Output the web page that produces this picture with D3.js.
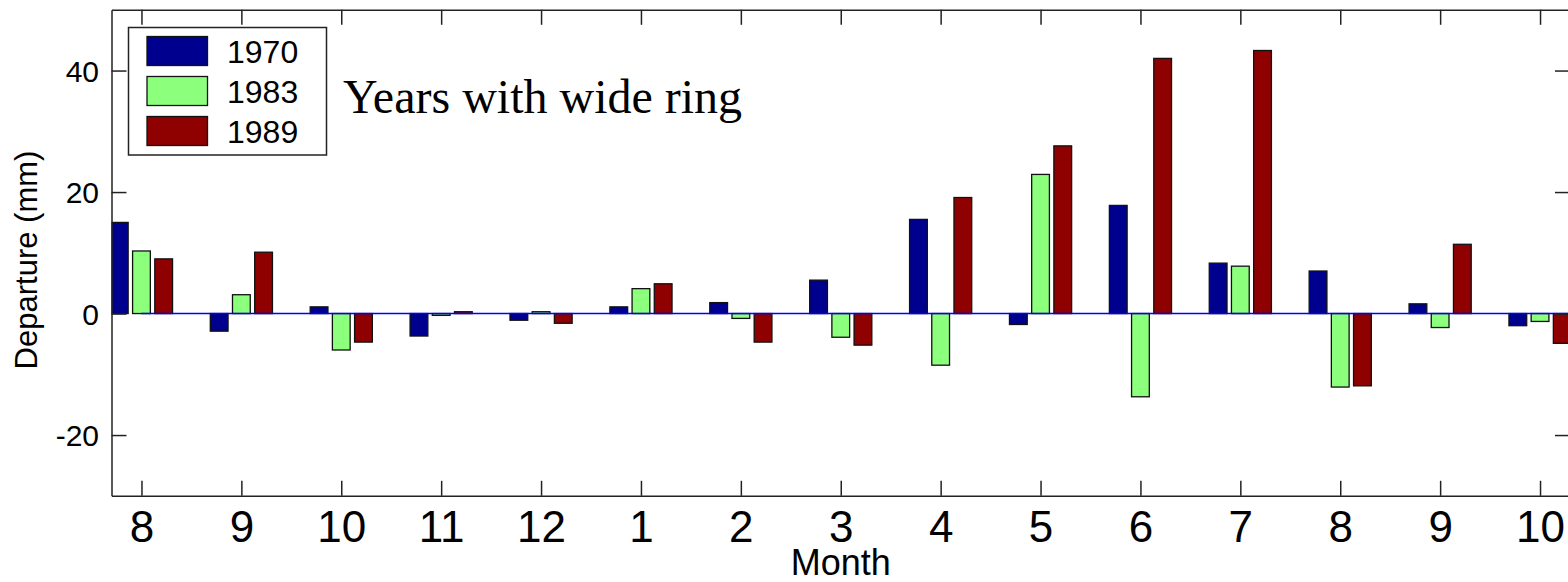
<!DOCTYPE html>
<html>
<head>
<meta charset="utf-8">
<script src="https://cdn.jsdelivr.net/npm/d3@7"></script>
<style>
html,body{margin:0;padding:0;background:#fff;}
svg{display:block;}
text{font-family:"Liberation Sans",Arial,sans-serif;fill:#000;}
</style>
</head>
<body>
<svg id="chart" width="1568" height="582"></svg>
<script>
// ---- data ----
const months = ["8","9","10","11","12","1","2","3","4","5","6","7","8","9","10"];
const seriesNames = ["1970","1983","1989"];
const v1970 = [15.0, -2.9, 1.1, -3.7, -1.1, 1.1, 1.8, 5.5, 15.5, -1.8, 17.8, 8.3, 7.0, 1.6, -2.0];
const v1983 = [10.3, 3.1, -6.0, -0.3, 0.3, 4.1, -0.8, -3.9, -8.5, 22.9, -13.7, 7.8, -12.1, -2.3, -1.3];
const v1989 = [9.0, 10.1, -4.7, 0.3, -1.6, 4.9, -4.7, -5.2, 19.1, 27.6, 42.0, 43.3, -11.9, 11.4, -4.9];
const yTicks = [-20, 0, 20, 40];
const colors = ["#00008f", "#8cff7c", "#8f0000"];

const series = [v1970, v1983, v1989];

const svg = d3.select("#chart");
const L = 111.5, R = 1570, T = 9.8, B = 495.8;

const x = d3.scaleLinear().domain([-0.3, months.length - 1 + 0.3]).range([L, R]);
const y = d3.scaleLinear().domain([-30, 50]).range([B, T]);

const groupW = 2 / 3;            // MATLAB grouped bar width
const barSpace = groupW / series.length;
const barW = (x(barSpace * 0.8) - x(0));

svg.append("defs").append("clipPath").attr("id", "plotclip")
  .append("rect").attr("x", L).attr("y", T).attr("width", R - L).attr("height", B - T);

const plot = svg.append("g").attr("clip-path", "url(#plotclip)");

series.forEach((vals, s) => {
  const off = (s - 1) * barSpace;
  plot.append("g").selectAll("rect").data(vals).join("rect")
    .attr("x", (d, i) => x(i + off) - barW / 2)
    .attr("width", barW)
    .attr("y", d => y(Math.max(0, d)))
    .attr("height", d => Math.abs(y(d) - y(0)))
    .attr("fill", colors[s])
    .attr("stroke", "#111")
    .attr("stroke-width", 1.3);
});

// baseline
plot.append("line")
  .attr("x1", x(0)).attr("x2", x(months.length - 1 + 0.3))
  .attr("y1", y(0)).attr("y2", y(0))
  .attr("stroke", "#0000ff").attr("stroke-width", 1.6);

// axes (ticks inward)
const tickLen = 15;
const xb = svg.append("g").attr("transform", `translate(0,${B})`)
  .call(d3.axisBottom(x).tickValues(d3.range(months.length)).tickFormat(i => months[i])
        .tickSizeInner(-tickLen).tickSizeOuter(0));
const xt = svg.append("g").attr("transform", `translate(0,${T})`)
  .call(d3.axisTop(x).tickValues(d3.range(months.length)).tickFormat("")
        .tickSizeInner(-tickLen).tickSizeOuter(0));
const yl = svg.append("g").attr("transform", `translate(${L},0)`)
  .call(d3.axisLeft(y).tickValues(yTicks).tickFormat(d => String(d))
        .tickSizeInner(-tickLen).tickSizeOuter(0));
const yr = svg.append("g").attr("transform", `translate(${R},0)`)
  .call(d3.axisRight(y).tickValues(yTicks).tickFormat("")
        .tickSizeInner(-tickLen).tickSizeOuter(0));

[xb, xt, yl, yr].forEach(g => {
  g.selectAll(".domain").attr("stroke", "#222").attr("stroke-width", 1.5);
  g.selectAll(".tick line").attr("stroke", "#222").attr("stroke-width", 1.5);
});
xb.selectAll(".tick text").attr("font-size", 44).attr("font-family", "Liberation Sans, Arial, sans-serif")
  .attr("fill", "#000").attr("dy", 0).attr("y", 542.5 - B);
yl.selectAll(".tick text").attr("font-size", 30).attr("font-family", "Liberation Sans, Arial, sans-serif")
  .attr("fill", "#000").attr("dy", "0.36em").attr("x", -12.5);

// axis titles
svg.append("text").attr("x", (L + R) / 2).attr("y", 574.5)
  .attr("text-anchor", "middle").attr("font-size", 36).text("Month");
svg.append("text").attr("transform", "translate(37,260) rotate(-90)")
  .attr("text-anchor", "middle").attr("font-size", 31).text("Departure (mm)");

// annotation
svg.append("text").attr("x", 343).attr("y", 113)
  .style("font-family", "'Liberation Serif','Times New Roman',serif")
  .attr("font-size", 48).text("Years with wide ring");

// legend
const lg = svg.append("g");
lg.append("rect").attr("x", 128.5).attr("y", 27.5).attr("width", 198).attr("height", 127.5)
  .attr("fill", "#fff").attr("stroke", "#222").attr("stroke-width", 1.5);
seriesNames.forEach((n, i) => {
  const cy = 51 + i * 40;
  lg.append("rect").attr("x", 147).attr("y", cy - 14.5).attr("width", 60.5).attr("height", 29)
    .attr("fill", colors[i]).attr("stroke", "#111").attr("stroke-width", 1.3);
  lg.append("text").attr("x", 227).attr("y", cy + 12).attr("font-size", 32).text(n);
});
</script>
</body>
</html>
